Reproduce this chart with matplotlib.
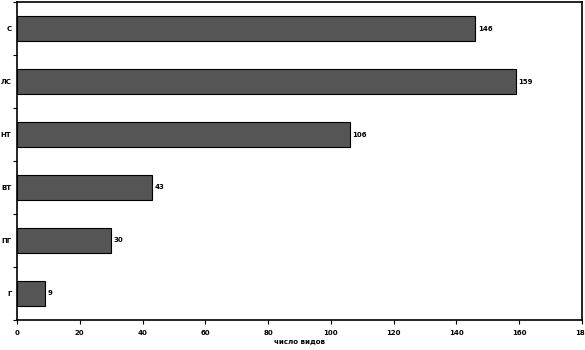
import matplotlib.pyplot as plt
import numpy as np

categories = ["С", "ЛС", "НТ", "ВТ", "ПГ", "Г"]
values = [146, 159, 106, 43, 30, 9]
xticks = [0, 20, 40, 60, 80, 100, 120, 140, 160, 180]

plt.rcParams["font.family"] = ["DejaVu Sans"]
fig = plt.figure(figsize=(5.85, 3.5), dpi=100)
ax = fig.add_axes([0.029, 0.086, 0.966, 0.908])

y = np.arange(len(categories))
ax.barh(y, values, height=0.48, color="#555555", edgecolor="black", linewidth=0.8)
for yi, v in zip(y, values):
    ax.text(v + 0.8, yi, str(v), va="center", ha="left", fontsize=5, fontweight="bold")

ax.set_ylim(len(categories) - 0.5, -0.5)
ax.set_xlim(0, 180)
ax.set_yticks(y)
ax.set_yticklabels(categories, fontsize=5, fontweight="bold")
ax.set_yticks(np.arange(len(categories) + 1) - 0.5, minor=True)
ax.tick_params(axis="y", which="major", length=0, pad=4)
ax.tick_params(axis="y", which="minor", length=3, width=0.8)
ax.set_xticks(xticks)
ax.set_xticklabels([str(t) for t in xticks], fontsize=5, fontweight="bold")
ax.tick_params(axis="x", length=3, width=0.8, pad=4)
ax.set_xlabel("число видов", fontsize=5, fontweight="bold", labelpad=2)
for s in ax.spines.values():
    s.set_linewidth(1.2)

fig.savefig("out.png", dpi=100)
